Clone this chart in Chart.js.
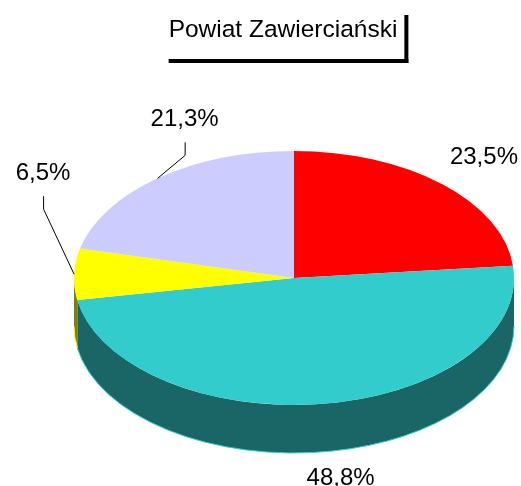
<!DOCTYPE html>
<html>
<head>
<meta charset="utf-8">
<script src="https://cdn.jsdelivr.net/npm/chart.js@4.4.0/dist/chart.umd.min.js"></script>
<style>
  html, body { margin: 0; padding: 0; background: #fff; }
  #wrap { width: 521px; height: 486px; }
</style>
</head>
<body>
<div id="wrap"><canvas id="pie3d" width="521" height="486"></canvas></div>
<script>
// Chart data
const chartTitle = 'Powiat Zawierciański';
const categories = ['A', 'B', 'C', 'D'];
const shares = [23.5, 48.8, 6.5, 21.3];
const topColors = ['#FF0000', '#33CCCC', '#FFFF00', '#CCCCFF'];
const sideColors = ['#800000', '#1A6666', '#808000', '#666680'];

// label placement relative to the slice edge (style only)
const labelShift = [[42, -27], [17, 75], [-31, -101], [27, -59]];
const leaderLine = [false, false, true, true];

const FONT = '24px "Liberation Sans", Arial, sans-serif';

// ellipse geometry of the 3d pie
const geo = { cx: 294, cy: 278, rx: 220, ry: 127, depth: 48 };

function ellipsePoint(a) {
    return { x: geo.cx + geo.rx * Math.cos(a), y: geo.cy + geo.ry * Math.sin(a) };
}

const pie3d = {
    id: 'pie3d',
    beforeDatasetsDraw(chart) {
        const ctx = chart.ctx;
        const arcs = chart.getDatasetMeta(0).data;

        // side walls, only the front half (0..PI) is visible
        arcs.forEach((arc, i) => {
            const a0 = Math.max(arc.startAngle, 0);
            const a1 = Math.min(arc.endAngle, Math.PI);
            if (a1 <= a0) return;
            ctx.save();
            ctx.beginPath();
            ctx.ellipse(geo.cx, geo.cy, geo.rx, geo.ry, 0, a0, a1);
            ctx.ellipse(geo.cx, geo.cy + geo.depth, geo.rx, geo.ry, 0, a1, a0, true);
            ctx.closePath();
            ctx.fillStyle = sideColors[i];
            ctx.fill();
            ctx.beginPath();
            ctx.ellipse(geo.cx, geo.cy + geo.depth, geo.rx, geo.ry, 0, a1, a0, true);
            ctx.strokeStyle = topColors[i];
            ctx.lineWidth = 1;
            ctx.stroke();
            ctx.restore();
        });

        // squash the circular pie into the top ellipse
        const a = arcs[0];
        ctx.save();
        ctx.translate(geo.cx, geo.cy);
        ctx.scale(geo.rx / a.outerRadius, geo.ry / a.outerRadius);
        ctx.translate(-a.x, -a.y);
    },
    afterDatasetsDraw(chart) {
        const ctx = chart.ctx;
        ctx.restore();

        const arcs = chart.getDatasetMeta(0).data;
        ctx.save();
        ctx.font = FONT;
        ctx.fillStyle = '#000';
        ctx.textAlign = 'center';
        ctx.textBaseline = 'middle';
        arcs.forEach((arc, i) => {
            const mid = (arc.startAngle + arc.endAngle) / 2;
            const p = ellipsePoint(mid);
            const lx = p.x + labelShift[i][0];
            const ly = p.y + labelShift[i][1];
            ctx.fillText(shares[i].toFixed(1).replace('.', ',') + '%', lx, ly);
            if (leaderLine[i]) {
                ctx.beginPath();
                ctx.moveTo(p.x, p.y);
                ctx.lineTo(lx + 0.5, ly + 36);
                ctx.lineTo(lx + 0.5, ly + 23);
                ctx.strokeStyle = '#000';
                ctx.lineWidth = 1;
                ctx.stroke();
            }
        });
        ctx.restore();
    },
    afterDraw(chart) {
        // shadow frame round the title
        const ctx = chart.ctx;
        const t = chart.titleBlock;
        ctx.save();
        ctx.font = '24.5px "Liberation Sans", Arial, sans-serif';
        const w = ctx.measureText(chartTitle).width;
        const mid = (t.left + t.right) / 2;
        const left = mid - w / 2;
        const right = mid + w / 2 + 7;
        ctx.fillStyle = '#000';
        ctx.fillRect(right, 15, 4, 48);
        ctx.fillRect(left, 59, right - left + 4, 4);
        ctx.restore();
    }
};

const ctx = document.getElementById('pie3d').getContext('2d');
const chart = new Chart(ctx, {
    type: 'pie',
    data: {
        labels: categories,
        datasets: [{
            data: shares,
            backgroundColor: topColors,
            borderWidth: 0,
            clip: false
        }]
    },
    options: {
        responsive: false,
        animation: false,
        layout: { padding: { left: 45, right: 0, top: 0, bottom: 0 } },
        plugins: {
            legend: { display: false },
            tooltip: { enabled: false },
            title: {
                display: true,
                text: chartTitle,
                fullSize: false,
                color: '#000',
                font: { family: '"Liberation Sans", Arial, sans-serif', size: 24.5, weight: 'normal' },
                padding: { top: 16, bottom: 20 }
            }
        }
    },
    plugins: [pie3d]
});
</script>
</body>
</html>
